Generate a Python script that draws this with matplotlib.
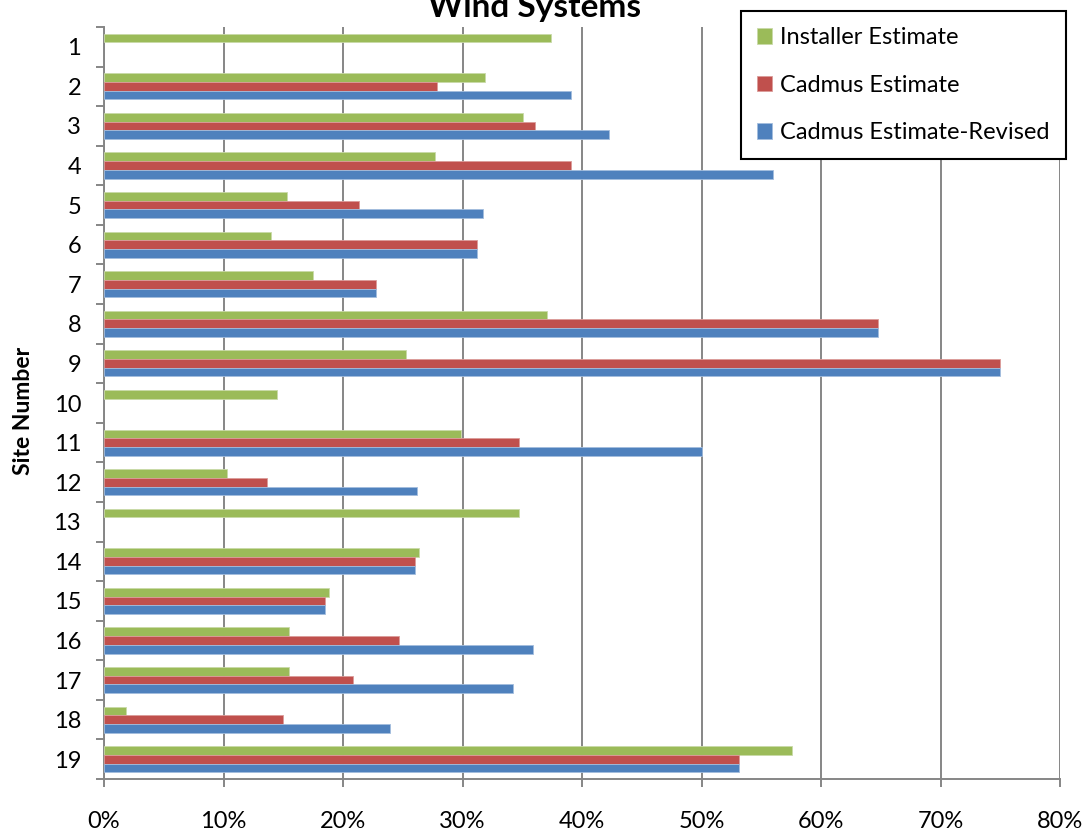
import numpy as np
import matplotlib
matplotlib.use("Agg")
import matplotlib.pyplot as plt
from matplotlib.ticker import FuncFormatter, MultipleLocator, FixedLocator

plt.rcParams['font.family'] = ['Lato', 'DejaVu Sans']

sites = list(range(1, 19 + 1))
series_names = ["Installer Estimate", "Cadmus Estimate", "Cadmus Estimate-Revised"]

installer = [0.374, 0.319, 0.351, 0.277, 0.153, 0.140, 0.175, 0.371, 0.253, 0.145,
             0.299, 0.103, 0.347, 0.264, 0.188, 0.155, 0.155, 0.018, 0.576]
cadmus = [np.nan, 0.279, 0.361, 0.391, 0.213, 0.312, 0.228, 0.648, 0.750, np.nan,
          0.347, 0.136, np.nan, 0.260, 0.185, 0.247, 0.208, 0.150, 0.531]
cadmus_revised = [np.nan, 0.391, 0.423, 0.560, 0.317, 0.312, 0.228, 0.648, 0.750, np.nan,
                  0.500, 0.262, np.nan, 0.260, 0.185, 0.359, 0.342, 0.239, 0.531]

colors = ["#9BBB59", "#C0504D", "#4F81BD"]
edges = ["#C9DAA8", "#DB9C9A", "#A3BDDD"]
grid_gray = "#868686"

fig = plt.figure(figsize=(10.88, 8.33), dpi=100)
ax = fig.add_axes([104 / 1088, 1 - 779 / 833, (1060 - 104) / 1088, (779 - 27) / 833])

y = np.array(sites, dtype=float)
h = 0.22
offsets = [-h, 0.0, h]
handles = []
for vals, off, c, ec, name in zip([installer, cadmus, cadmus_revised], offsets, colors, edges, series_names):
    vals = np.array(vals, dtype=float)
    mask = ~np.isnan(vals)
    b = ax.barh(y[mask] + off, vals[mask], height=h, color=c, edgecolor=ec,
                linewidth=0.6, zorder=3, label=name)
    handles.append(b)

ax.set_xlim(0, 0.8)
ax.set_ylim(19.5, 0.5)

# vertical gridlines
ax.xaxis.set_major_locator(MultipleLocator(0.1))
ax.xaxis.set_major_formatter(FuncFormatter(lambda v, p: f"{v * 100:.0f}%"))
ax.grid(axis='x', color=grid_gray, linewidth=1.4, zorder=0)
ax.set_axisbelow(True)

# category boundaries as tick marks, labels at band centres
ax.yaxis.set_major_locator(FixedLocator(np.arange(0.5, 19.6, 1.0)))
ax.yaxis.set_major_formatter(FuncFormatter(lambda v, p: ""))
ax.set_yticks(y, [str(s) for s in sites], minor=True)
ax.tick_params(axis='y', which='major', length=6, width=1.4, color=grid_gray, direction='out')
ax.tick_params(axis='y', which='minor', length=0, pad=16.5, labelsize=17)
ax.tick_params(axis='x', which='major', length=6, width=1.4, color=grid_gray,
               direction='out', pad=17, labelsize=17)

for side in ['top', 'right']:
    ax.spines[side].set_visible(False)
for side in ['left', 'bottom']:
    ax.spines[side].set_color(grid_gray)
    ax.spines[side].set_linewidth(1.4)

fig.text(535 / 1088, 1 - 17 / 833, "Wind Systems", ha='center', va='baseline',
         fontsize=24, fontweight='bold')
fig.text(24 / 1088, 1 - 411 / 833, "Site Number", ha='center', va='center',
         rotation=90, fontsize=16.5, fontweight='bold')

leg = fig.legend(handles=handles, labels=series_names, loc='upper right',
                 bbox_to_anchor=(1066 / 1088, 1 - 11 / 833), borderaxespad=0,
                 fontsize=17, handlelength=0.64, handleheight=0.64,
                 labelspacing=1.13, handletextpad=0.36, borderpad=0.68,
                 fancybox=False, framealpha=1, edgecolor='black')
leg.get_frame().set_linewidth(1.5)

fig.savefig("out.png", dpi=100)
